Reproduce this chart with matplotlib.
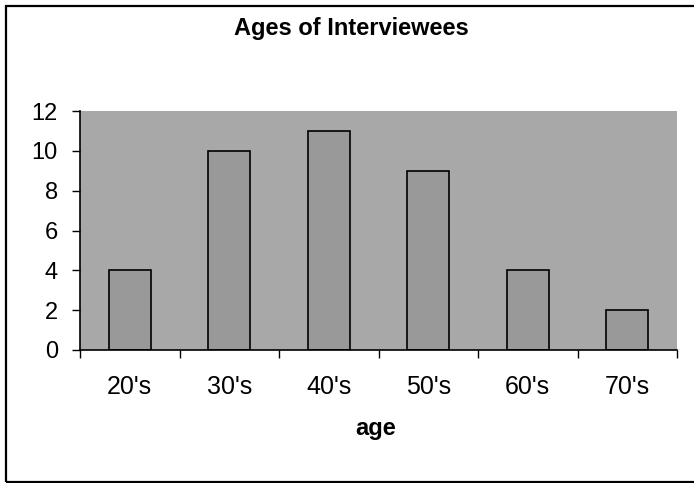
import numpy as np
import matplotlib.pyplot as plt
from matplotlib.patches import Rectangle

plt.rcParams['font.family'] = ['Liberation Sans', 'DejaVu Sans']

categories = ["20's", "30's", "40's", "50's", "60's", "70's"]
counts = [4, 10, 11, 9, 4, 2]

fig = plt.figure(figsize=(6.94, 4.83), dpi=100)
# outer chart frame (runs off the right edge like the original)
fig.patches.append(Rectangle((0.008, 0.003), 1.0, 0.984, transform=fig.transFigure,
                             fill=False, edgecolor='black', linewidth=1.6))

ax = fig.add_axes([80/694, 1 - 350/483, (677-80)/694, (350-111)/483])
ax.set_facecolor('#a8a8a8')

x = np.arange(len(categories))
ax.bar(x, counts, width=0.42, color='#999999', edgecolor='black', linewidth=1.2)

ax.set_xlim(-0.5, len(categories) - 0.5)
ax.set_ylim(0, 12)
ax.set_yticks(range(0, 13, 2))
ax.set_xticks(x)
ax.set_xticklabels(categories)
ax.set_xticks(np.arange(-0.5, len(categories)), minor=True)
ax.tick_params(axis='x', which='major', length=0, labelsize=18, pad=18)
ax.tick_params(axis='x', which='minor', length=6, width=1, direction='out')
ax.tick_params(axis='y', length=6, width=1, direction='out', labelsize=17, pad=10)

for s in ['top', 'right']:
    ax.spines[s].set_visible(False)
ax.spines['left'].set_linewidth(1.2)
ax.spines['bottom'].set_linewidth(1.2)

fig.text(376/694, 1 - 428/483, 'age', ha='center', va='center',
         fontsize=17, fontweight='bold')
fig.text(351/694, 1 - 29/483, 'Ages of Interviewees', ha='center', va='center',
         fontsize=17, fontweight='bold')

fig.savefig('out.png', dpi=100)
